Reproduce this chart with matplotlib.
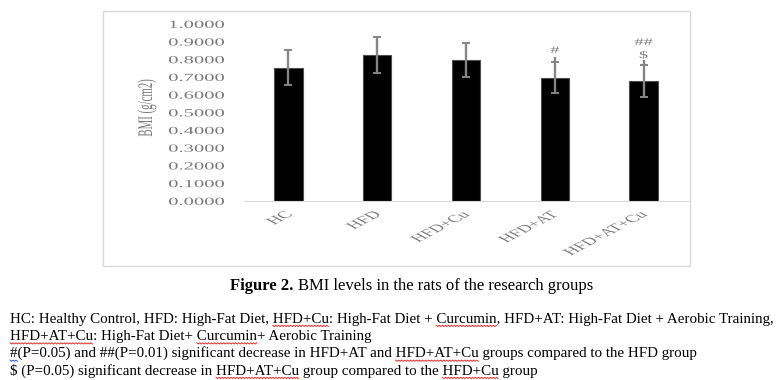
import matplotlib
matplotlib.use('Agg')
import numpy as np
import matplotlib.pyplot as plt
from matplotlib.patches import Rectangle, PathPatch
from matplotlib.textpath import TextPath
from matplotlib.font_manager import FontProperties
from matplotlib.transforms import Affine2D, IdentityTransform
from matplotlib.lines import Line2D

# data
groups   = ['HC', 'HFD', 'HFD+Cu', 'HFD+AT', 'HFD+AT+Cu']
bmi      = [0.755, 0.826, 0.798, 0.698, 0.678]
sd       = [0.098, 0.103, 0.094, 0.088, 0.090]
line_top = [None, None, None, 0.816, 0.800]   # error line runs past the cap
mark_hi  = ['', '', '', '#', '##']
mark_lo  = ['', '', '', '', '$']
yticks   = [0.0, 0.1, 0.2, 0.3, 0.4, 0.5, 0.6, 0.7, 0.8, 0.9, 1.0]

fig_no  = 'Figure 2.'
caption = 'BMI levels in the rats of the research groups'
notes = [
    'HC: Healthy Control, HFD: High-Fat Diet, HFD+Cu: High-Fat Diet + Curcumin, '
    'HFD+AT: High-Fat Diet + Aerobic Training,',
    'HFD+AT+Cu: High-Fat Diet+ Curcumin+ Aerobic Training',
    '#(P=0.05) and ##(P=0.01) significant decrease in HFD+AT and HFD+AT+Cu '
    'groups compared to the HFD group',
    '$ (P=0.05) significant decrease in HFD+AT+Cu group compared to the HFD+Cu group',
]
# words the spell checker flagged (line, word, colour)
flagged = [(0, 'HFD+Cu', 'red'), (0, 'Curcumin', 'red'),
           (1, 'HFD+AT+Cu', 'red'), (1, 'Curcumin', 'red'),
           (2, '#', 'blue'), (2, 'HFD+AT+Cu', 'red'),
           (3, 'HFD+AT+Cu', 'red'), (3, 'HFD+Cu', 'red')]

DPI = 100
W, H = 782, 380
SX = 1.9          # chart picture is stretched sideways in the document
grey = '#7a7a7a'
serif = FontProperties(family='Liberation Serif')

fig = plt.figure(figsize=(W / DPI, H / DPI), dpi=DPI)


def wide_text(s, x, y, size, rot=0, ha='center', va='center', sx=SX, color=grey):
    """text drawn as a path so it can be stretched like the pasted chart"""
    tp = TextPath((0, 0), s, size=size, prop=serif)
    bb = tp.get_extents()
    ox = {'left': bb.x0, 'center': 0.5 * (bb.x0 + bb.x1), 'right': bb.x1}[ha]
    oy = {'bottom': bb.y0, 'center': 0.5 * (bb.y0 + bb.y1), 'top': bb.y1}[va]
    tr = (Affine2D().translate(-ox, -oy).rotate_deg(rot)
          .scale(sx * DPI / 72, DPI / 72).translate(x, y))
    fig.add_artist(PathPatch(tp, transform=tr, fc=color, ec='none', lw=0))


# chart frame
fig.patches.append(Rectangle((103 / W, 1 - 266 / H), (690 - 103) / W,
                             (266 - 11) / H, transform=fig.transFigure,
                             fill=False, edgecolor='#d9d9d9', lw=1.0))

ax = fig.add_axes([244 / W, 1 - 201.3 / H, (688 - 244) / W, 177 / H])
x = np.arange(len(groups))
ax.bar(x, bmi, width=0.32, color='black', edgecolor='#4d4d4d', lw=0.8, zorder=2)
ax.errorbar(x, bmi, yerr=sd, fmt='none', ecolor='#858585', elinewidth=1.7,
            capsize=3, capthick=1.4, zorder=3)
ax.set_xlim(-0.5, 4.5)
ax.set_ylim(0, 1.0)
ax.set_xticks(x)
ax.set_yticks(yticks)
ax.tick_params(axis='both', length=0, labelleft=False, labelbottom=False)
for side in ['top', 'right', 'left']:
    ax.spines[side].set_visible(False)
ax.spines['bottom'].set_color('#d9d9d9')

# significance marks and the error lines that run past the cap
for xi, b, s, lt, hi, lo in zip(x, bmi, sd, line_top, mark_hi, mark_lo):
    top = b + s
    if lt is not None:
        ax.vlines(xi, top, lt, color='#858585', lw=1.7, zorder=3)
        top = lt
    px, py = ax.transData.transform((xi, top))
    if lo:
        wide_text(lo, px, py + 1, 7, va='bottom')
        wide_text(hi, px, py + 18, 7, va='center')
    elif hi:
        wide_text(hi, px, py + 4, 7, va='bottom')

# tick labels
for v in yticks:
    px, py = ax.transData.transform((ax.get_xlim()[0], v))
    wide_text(f'{v:.4f}', px - 20, py, 7.8, ha='right', va='center')
for xi, g in zip(x, groups):
    px, py = ax.transData.transform((xi, 0))
    wide_text(g, px - 5, py - 9, 7.5, rot=45, ha='right', va='top')
wide_text('BMI (g/cm2)', 147, H - 108, 7.8, rot=90)

# caption and notes under the chart
renderer = fig.canvas.get_renderer()
body = FontProperties(family='Liberation Serif', size=10.85)
cap_r = FontProperties(family='Liberation Serif', size=12)
cap_b = FontProperties(family='Liberation Serif', size=12, weight='bold')


def text_w(s, fp):
    return renderer.get_text_width_height_descent(s, fp, ismath=False)[0]


x0 = 230
fig.text(x0 / W, 1 - 290 / H, fig_no, fontproperties=cap_b, va='baseline')
fig.text((x0 + text_w(fig_no, cap_b) + 4.5) / W, 1 - 290 / H, caption,
         fontproperties=cap_r, va='baseline')

base = [322.5, 340, 357.3, 374.5]
for line, yb in zip(notes, base):
    fig.text(10 / W, 1 - yb / H, line, fontproperties=body, va='baseline')

for li, word, col in flagged:
    line = notes[li]
    k = line.find(word)
    end = 10 + text_w(line[:k + len(word)], body)
    start = end - text_w(word, body)
    xs = np.arange(start, end + 0.1, 1.5)
    ys = H - base[li] - 2.8 - 1.2 * (np.arange(len(xs)) % 2)
    fig.add_artist(Line2D(xs, ys, transform=IdentityTransform(),
                          color='#e03030' if col == 'red' else '#3050e0', lw=0.7))

fig.savefig('out.png', dpi=DPI)
